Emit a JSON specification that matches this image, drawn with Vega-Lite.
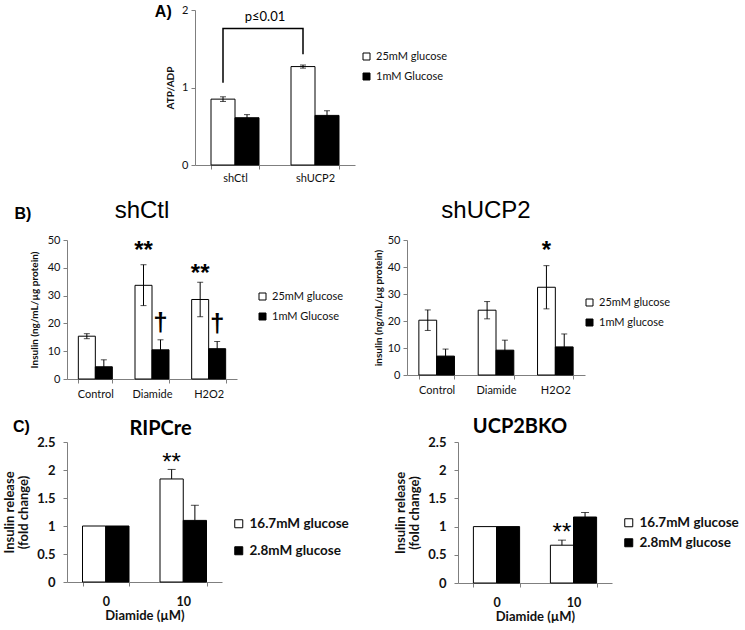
{
 "$schema": "https://vega.github.io/schema/vega-lite/v6.json",
 "padding": {"left": 3, "top": 4, "right": 5, "bottom": 5},
 "background": "white",
 "config": {
  "font": "Lato",
  "view": {"stroke": null},
  "axis": {"domainColor": "#7f7f7f", "tickColor": "#7f7f7f", "grid": false, "labelColor": "#111111", "titleColor": "#111111", "labelFont": "Lato", "titleFont": "Lato", "tickSize": 4, "labelFontSize": 11, "titleFontSize": 10, "titleFontWeight": "bold", "labelOverlap": false},
  "legend": {"labelFont": "Lato", "labelColor": "#111111"},
  "title": {"font": "Liberation Sans", "color": "#000000"}
 },
 "datasets": {
  "A": [
   {"cond": "shCtl", "grp": "25mM glucose", "val": 0.85, "lo": 0.82, "hi": 0.88},
   {"cond": "shCtl", "grp": "1mM Glucose", "val": 0.61, "lo": 0.57, "hi": 0.65},
   {"cond": "shUCP2", "grp": "25mM glucose", "val": 1.27, "lo": 1.25, "hi": 1.29},
   {"cond": "shUCP2", "grp": "1mM Glucose", "val": 0.64, "lo": 0.58, "hi": 0.70}
  ],
  "Abr": [
   {"cond": "shCtl", "y": 1.06, "o": 1},
   {"cond": "shCtl", "y": 1.76, "o": 2},
   {"cond": "shUCP2", "y": 1.76, "o": 3},
   {"cond": "shUCP2", "y": 1.43, "o": 4}
  ],
  "Atxt": [{"cond": "shCtl", "y": 1.86, "label": "p≤0.01"}],
  "BL": [
   {"cond": "Control", "grp": "25mM glucose", "val": 15.4, "lo": 14.5, "hi": 16.3},
   {"cond": "Control", "grp": "1mM Glucose", "val": 4.4, "lo": 1.9, "hi": 6.9},
   {"cond": "Diamide", "grp": "25mM glucose", "val": 33.7, "lo": 26.4, "hi": 41.1},
   {"cond": "Diamide", "grp": "1mM Glucose", "val": 10.5, "lo": 6.9, "hi": 14.1},
   {"cond": "H2O2", "grp": "25mM glucose", "val": 28.6, "lo": 22.4, "hi": 34.8},
   {"cond": "H2O2", "grp": "1mM Glucose", "val": 10.9, "lo": 8.3, "hi": 13.5}
  ],
  "BLstar": [
   {"cond": "Diamide", "grp": "25mM glucose", "y": 43.7, "label": "**"},
   {"cond": "H2O2", "grp": "25mM glucose", "y": 35.4, "label": "**"}
  ],
  "BLdag": [
   {"cond": "Diamide", "grp": "1mM Glucose", "y": 17.4, "label": "†"},
   {"cond": "H2O2", "grp": "1mM Glucose", "y": 17.0, "label": "†"}
  ],
  "BR": [
   {"cond": "Control", "grp": "25mM glucose", "val": 20.3, "lo": 16.5, "hi": 24.1},
   {"cond": "Control", "grp": "1mM glucose", "val": 7.0, "lo": 4.4, "hi": 9.6},
   {"cond": "Diamide", "grp": "25mM glucose", "val": 24.0, "lo": 20.8, "hi": 27.2},
   {"cond": "Diamide", "grp": "1mM glucose", "val": 9.2, "lo": 5.5, "hi": 12.9},
   {"cond": "H2O2", "grp": "25mM glucose", "val": 32.5, "lo": 24.5, "hi": 40.5},
   {"cond": "H2O2", "grp": "1mM glucose", "val": 10.4, "lo": 5.6, "hi": 15.2}
  ],
  "BRstar": [{"cond": "H2O2", "grp": "25mM glucose", "y": 43.3, "label": "*"}],
  "CL": [
   {"dose": "0", "grp": "16.7mM glucose", "val": 1.0},
   {"dose": "0", "grp": "2.8mM glucose", "val": 1.0},
   {"dose": "10", "grp": "16.7mM glucose", "val": 1.84},
   {"dose": "10", "grp": "2.8mM glucose", "val": 1.10}
  ],
  "CLerr": [
   {"dose": "10", "grp": "16.7mM glucose", "val": 1.84, "hi": 2.01},
   {"dose": "10", "grp": "2.8mM glucose", "val": 1.10, "hi": 1.37}
  ],
  "CLstar": [{"dose": "10", "grp": "16.7mM glucose", "y": 2.0, "label": "**"}],
  "CR": [
   {"dose": "0", "grp": "16.7mM glucose", "val": 1.0},
   {"dose": "0", "grp": "2.8mM glucose", "val": 1.0},
   {"dose": "10", "grp": "16.7mM glucose", "val": 0.67},
   {"dose": "10", "grp": "2.8mM glucose", "val": 1.17}
  ],
  "CRerr": [
   {"dose": "10", "grp": "16.7mM glucose", "val": 0.67, "hi": 0.76},
   {"dose": "10", "grp": "2.8mM glucose", "val": 1.17, "hi": 1.25}
  ],
  "CRstar": [{"dose": "10", "grp": "16.7mM glucose", "y": 0.76, "label": "**"}],
  "spacer": [{"a": 1}]
 },
 "resolve": {"scale": {"x": "independent", "y": "independent", "color": "independent", "xOffset": "independent"}, "axis": {"x": "independent", "y": "independent"}, "legend": {"color": "independent"}},
 "spacing": 16,
 "vconcat": [
  {
   "spacing": 10,
   "resolve": {"scale": {"x": "independent", "y": "independent", "color": "independent", "xOffset": "independent"}, "axis": {"x": "independent", "y": "independent"}, "legend": {"color": "independent"}},
   "hconcat": [
    {"width": 77, "height": 10, "data": {"name": "spacer"}, "mark": {"type": "point", "opacity": 0}, "encoding": {}},
    {
     "width": 160, "height": 155,
     "title": {"text": "A)", "orient": "left", "anchor": "end", "frame": "group", "angle": 0, "align": "right", "baseline": "top", "offset": -23, "dy": -6, "fontSize": 16, "fontWeight": "bold"},
     "layer": [
      {"data": {"name": "A"}, "mark": {"type": "bar", "stroke": "#000000", "strokeWidth": 1},
       "encoding": {
        "x": {"field": "cond", "type": "nominal", "scale": {"paddingInner": 0.4, "paddingOuter": 0.2}, "axis": {"title": null, "labelAngle": 0, "labelPadding": 3, "tickBand": "extent", "labelOverlap": false}},
        "xOffset": {"field": "grp", "type": "nominal", "scale": {"domain": ["25mM glucose", "1mM Glucose"]}},
        "y": {"field": "val", "type": "quantitative", "scale": {"domain": [0, 2], "nice": false}, "axis": {"values": [0, 1, 2], "format": "~g", "labelOverlap": false, "title": "ATP/ADP", "titlePadding": 6, "labelPadding": 3}},
        "color": {"field": "grp", "type": "nominal", "scale": {"domain": ["25mM glucose", "1mM Glucose"], "range": ["#ffffff", "#000000"]}, "legend": {"title": null, "orient": "none", "legendX": 166, "legendY": 41, "symbolType": "square", "symbolSize": 49, "symbolStrokeColor": "#000000", "symbolStrokeWidth": 1, "labelFontSize": 11, "rowPadding": 8}}
       }},
      {"data": {"name": "A"}, "mark": {"type": "rule", "color": "#000000", "strokeWidth": 1},
       "encoding": {
        "x": {"field": "cond", "type": "nominal", "scale": {"paddingInner": 0.4, "paddingOuter": 0.2}, "axis": {"title": null, "labelAngle": 0, "labelPadding": 3, "tickBand": "extent", "labelOverlap": false}},
        "xOffset": {"field": "grp", "type": "nominal", "scale": {"domain": ["25mM glucose", "1mM Glucose"]}},
        "y": {"field": "lo", "type": "quantitative", "scale": {"domain": [0, 2], "nice": false}, "axis": {"values": [0, 1, 2], "format": "~g", "labelOverlap": false, "title": "ATP/ADP", "titlePadding": 6, "labelPadding": 3}},
        "y2": {"field": "hi"}}},
      {"data": {"name": "A"}, "mark": {"type": "tick", "orient": "horizontal", "color": "#000000", "thickness": 1, "size": 6},
       "encoding": {
        "x": {"field": "cond", "type": "nominal", "scale": {"paddingInner": 0.4, "paddingOuter": 0.2}, "axis": {"title": null, "labelAngle": 0, "labelPadding": 3, "tickBand": "extent", "labelOverlap": false}},
        "xOffset": {"field": "grp", "type": "nominal", "scale": {"domain": ["25mM glucose", "1mM Glucose"]}},
        "y": {"field": "hi", "type": "quantitative", "scale": {"domain": [0, 2], "nice": false}, "axis": {"values": [0, 1, 2], "format": "~g", "labelOverlap": false, "title": "ATP/ADP", "titlePadding": 6, "labelPadding": 3}}}},
      {"data": {"name": "A"}, "mark": {"type": "tick", "orient": "horizontal", "color": "#000000", "thickness": 1, "size": 6},
       "encoding": {
        "x": {"field": "cond", "type": "nominal", "scale": {"paddingInner": 0.4, "paddingOuter": 0.2}, "axis": {"title": null, "labelAngle": 0, "labelPadding": 3, "tickBand": "extent", "labelOverlap": false}},
        "xOffset": {"field": "grp", "type": "nominal", "scale": {"domain": ["25mM glucose", "1mM Glucose"]}},
        "y": {"field": "lo", "type": "quantitative", "scale": {"domain": [0, 2], "nice": false}, "axis": {"values": [0, 1, 2], "format": "~g", "labelOverlap": false, "title": "ATP/ADP", "titlePadding": 6, "labelPadding": 3}}}},
      {"data": {"name": "Abr"}, "mark": {"type": "line", "color": "#000000", "strokeWidth": 1.5},
       "encoding": {
        "x": {"field": "cond", "type": "nominal", "bandPosition": 0.25, "scale": {"paddingInner": 0.4, "paddingOuter": 0.2}, "axis": {"title": null, "labelAngle": 0, "labelPadding": 3, "tickBand": "extent", "labelOverlap": false}},
        "y": {"field": "y", "type": "quantitative", "scale": {"domain": [0, 2], "nice": false}, "axis": {"values": [0, 1, 2], "format": "~g", "labelOverlap": false, "title": "ATP/ADP", "titlePadding": 6, "labelPadding": 3}},
        "order": {"field": "o", "type": "quantitative"}}},
      {"data": {"name": "Atxt"}, "mark": {"type": "text", "fontSize": 13, "dx": 6, "baseline": "alphabetic", "font": "Lato"},
       "encoding": {
        "x": {"field": "cond", "type": "nominal", "bandPosition": 1, "scale": {"paddingInner": 0.4, "paddingOuter": 0.2}, "axis": {"title": null, "labelAngle": 0, "labelPadding": 3, "tickBand": "extent", "labelOverlap": false}},
        "y": {"field": "y", "type": "quantitative", "scale": {"domain": [0, 2], "nice": false}, "axis": {"values": [0, 1, 2], "format": "~g", "labelOverlap": false, "title": "ATP/ADP", "titlePadding": 6, "labelPadding": 3}},
        "text": {"field": "label"}}}
     ]
    }
   ]
  },
  {
   "spacing": 18,
   "resolve": {"scale": {"x": "independent", "y": "independent", "color": "independent", "xOffset": "independent"}, "axis": {"x": "independent", "y": "independent"}, "legend": {"color": "independent"}},
   "vconcat": [
    {
     "spacing": 29,
     "resolve": {"scale": {"x": "independent", "y": "independent", "color": "independent", "xOffset": "independent"}, "axis": {"x": "independent", "y": "independent"}, "legend": {"color": "independent"}},
     "hconcat": [
      {
       "title": {"text": "B)", "orient": "left", "anchor": "end", "frame": "bounds", "angle": 0, "align": "right", "baseline": "top", "offset": -19, "dy": 7, "fontSize": 16, "fontWeight": "bold"},
       "hconcat": [
        {
         "width": 170, "height": 139,
         "title": {"text": "shCtl", "fontSize": 24, "fontWeight": "normal", "offset": 11, "dx": -10},
         "layer": [
          {"data": {"name": "BL"}, "mark": {"type": "bar", "stroke": "#000000", "strokeWidth": 1},
           "encoding": {
            "x": {"field": "cond", "type": "nominal", "scale": {"paddingInner": 0.4, "paddingOuter": 0.2}, "axis": {"title": null, "labelAngle": 0, "labelPadding": 5, "tickBand": "extent", "labelOverlap": false}},
            "xOffset": {"field": "grp", "type": "nominal", "scale": {"domain": ["25mM glucose", "1mM Glucose"]}},
            "y": {"field": "val", "type": "quantitative", "scale": {"domain": [0, 50], "nice": false}, "axis": {"values": [0, 10, 20, 30, 40, 50], "labelOverlap": false, "title": "Insulin (ng/mL/µg protein)", "titlePadding": 8, "labelPadding": 3}},
            "color": {"field": "grp", "type": "nominal", "scale": {"domain": ["25mM glucose", "1mM Glucose"], "range": ["#ffffff", "#000000"]}, "legend": {"title": null, "orient": "none", "legendX": 190, "legendY": 51, "symbolType": "square", "symbolSize": 49, "symbolStrokeColor": "#000000", "symbolStrokeWidth": 1, "labelFontSize": 11, "rowPadding": 8}}
           }},
          {"data": {"name": "BL"}, "mark": {"type": "rule", "color": "#000000", "strokeWidth": 1},
           "encoding": {
            "x": {"field": "cond", "type": "nominal", "scale": {"paddingInner": 0.4, "paddingOuter": 0.2}, "axis": {"title": null, "labelAngle": 0, "labelPadding": 5, "tickBand": "extent", "labelOverlap": false}},
            "xOffset": {"field": "grp", "type": "nominal", "scale": {"domain": ["25mM glucose", "1mM Glucose"]}},
            "y": {"field": "lo", "type": "quantitative", "scale": {"domain": [0, 50], "nice": false}, "axis": {"values": [0, 10, 20, 30, 40, 50], "labelOverlap": false, "title": "Insulin (ng/mL/µg protein)", "titlePadding": 8, "labelPadding": 3}},
            "y2": {"field": "hi"}}},
          {"data": {"name": "BL"}, "mark": {"type": "tick", "orient": "horizontal", "color": "#000000", "thickness": 1, "size": 6},
           "encoding": {
            "x": {"field": "cond", "type": "nominal", "scale": {"paddingInner": 0.4, "paddingOuter": 0.2}, "axis": {"title": null, "labelAngle": 0, "labelPadding": 5, "tickBand": "extent", "labelOverlap": false}},
            "xOffset": {"field": "grp", "type": "nominal", "scale": {"domain": ["25mM glucose", "1mM Glucose"]}},
            "y": {"field": "hi", "type": "quantitative", "scale": {"domain": [0, 50], "nice": false}, "axis": {"values": [0, 10, 20, 30, 40, 50], "labelOverlap": false, "title": "Insulin (ng/mL/µg protein)", "titlePadding": 8, "labelPadding": 3}}}},
          {"data": {"name": "BL"}, "mark": {"type": "tick", "orient": "horizontal", "color": "#000000", "thickness": 1, "size": 6},
           "encoding": {
            "x": {"field": "cond", "type": "nominal", "scale": {"paddingInner": 0.4, "paddingOuter": 0.2}, "axis": {"title": null, "labelAngle": 0, "labelPadding": 5, "tickBand": "extent", "labelOverlap": false}},
            "xOffset": {"field": "grp", "type": "nominal", "scale": {"domain": ["25mM glucose", "1mM Glucose"]}},
            "y": {"field": "lo", "type": "quantitative", "scale": {"domain": [0, 50], "nice": false}, "axis": {"values": [0, 10, 20, 30, 40, 50], "labelOverlap": false, "title": "Insulin (ng/mL/µg protein)", "titlePadding": 8, "labelPadding": 3}}}},
          {"data": {"name": "BLstar"}, "mark": {"type": "text", "font": "Liberation Sans", "fontSize": 24, "fontWeight": "bold", "baseline": "alphabetic"},
           "encoding": {
            "x": {"field": "cond", "type": "nominal", "scale": {"paddingInner": 0.4, "paddingOuter": 0.2}, "axis": {"title": null, "labelAngle": 0, "labelPadding": 5, "tickBand": "extent", "labelOverlap": false}},
            "xOffset": {"field": "grp", "type": "nominal", "scale": {"domain": ["25mM glucose", "1mM Glucose"]}},
            "y": {"field": "y", "type": "quantitative", "scale": {"domain": [0, 50], "nice": false}, "axis": {"values": [0, 10, 20, 30, 40, 50], "labelOverlap": false, "title": "Insulin (ng/mL/µg protein)", "titlePadding": 8, "labelPadding": 3}},
            "text": {"field": "label"}}},
          {"data": {"name": "BLdag"}, "mark": {"type": "text", "font": "Liberation Sans", "fontSize": 26, "fontWeight": "bold", "baseline": "alphabetic"},
           "encoding": {
            "x": {"field": "cond", "type": "nominal", "scale": {"paddingInner": 0.4, "paddingOuter": 0.2}, "axis": {"title": null, "labelAngle": 0, "labelPadding": 5, "tickBand": "extent", "labelOverlap": false}},
            "xOffset": {"field": "grp", "type": "nominal", "scale": {"domain": ["25mM glucose", "1mM Glucose"]}},
            "y": {"field": "y", "type": "quantitative", "scale": {"domain": [0, 50], "nice": false}, "axis": {"values": [0, 10, 20, 30, 40, 50], "labelOverlap": false, "title": "Insulin (ng/mL/µg protein)", "titlePadding": 8, "labelPadding": 3}},
            "text": {"field": "label"}}}
         ]
        }
       ]
      },
      {
       "width": 178, "height": 135,
       "title": {"text": "shUCP2", "fontSize": 24, "fontWeight": "normal", "offset": 11, "dx": -10},
       "layer": [
        {"data": {"name": "BR"}, "mark": {"type": "bar", "stroke": "#000000", "strokeWidth": 1},
         "encoding": {
          "x": {"field": "cond", "type": "nominal", "scale": {"paddingInner": 0.4, "paddingOuter": 0.2}, "axis": {"title": null, "labelAngle": 0, "labelPadding": 5, "tickBand": "extent", "labelOverlap": false}},
          "xOffset": {"field": "grp", "type": "nominal", "scale": {"domain": ["25mM glucose", "1mM glucose"]}},
          "y": {"field": "val", "type": "quantitative", "scale": {"domain": [0, 50], "nice": false}, "axis": {"values": [0, 10, 20, 30, 40, 50], "labelOverlap": false, "title": "insulin (ng/mL/µg protein)", "titlePadding": 4, "labelPadding": 3}},
          "color": {"field": "grp", "type": "nominal", "scale": {"domain": ["25mM glucose", "1mM glucose"], "range": ["#ffffff", "#000000"]}, "legend": {"title": null, "orient": "none", "legendX": 177, "legendY": 57, "symbolType": "square", "symbolSize": 49, "symbolStrokeColor": "#000000", "symbolStrokeWidth": 1, "labelFontSize": 11, "rowPadding": 8}}
         }},
        {"data": {"name": "BR"}, "mark": {"type": "rule", "color": "#000000", "strokeWidth": 1},
         "encoding": {
          "x": {"field": "cond", "type": "nominal", "scale": {"paddingInner": 0.4, "paddingOuter": 0.2}, "axis": {"title": null, "labelAngle": 0, "labelPadding": 5, "tickBand": "extent", "labelOverlap": false}},
          "xOffset": {"field": "grp", "type": "nominal", "scale": {"domain": ["25mM glucose", "1mM glucose"]}},
          "y": {"field": "lo", "type": "quantitative", "scale": {"domain": [0, 50], "nice": false}, "axis": {"values": [0, 10, 20, 30, 40, 50], "labelOverlap": false, "title": "insulin (ng/mL/µg protein)", "titlePadding": 4, "labelPadding": 3}},
          "y2": {"field": "hi"}}},
        {"data": {"name": "BR"}, "mark": {"type": "tick", "orient": "horizontal", "color": "#000000", "thickness": 1, "size": 6},
         "encoding": {
          "x": {"field": "cond", "type": "nominal", "scale": {"paddingInner": 0.4, "paddingOuter": 0.2}, "axis": {"title": null, "labelAngle": 0, "labelPadding": 5, "tickBand": "extent", "labelOverlap": false}},
          "xOffset": {"field": "grp", "type": "nominal", "scale": {"domain": ["25mM glucose", "1mM glucose"]}},
          "y": {"field": "hi", "type": "quantitative", "scale": {"domain": [0, 50], "nice": false}, "axis": {"values": [0, 10, 20, 30, 40, 50], "labelOverlap": false, "title": "insulin (ng/mL/µg protein)", "titlePadding": 4, "labelPadding": 3}}}},
        {"data": {"name": "BR"}, "mark": {"type": "tick", "orient": "horizontal", "color": "#000000", "thickness": 1, "size": 6},
         "encoding": {
          "x": {"field": "cond", "type": "nominal", "scale": {"paddingInner": 0.4, "paddingOuter": 0.2}, "axis": {"title": null, "labelAngle": 0, "labelPadding": 5, "tickBand": "extent", "labelOverlap": false}},
          "xOffset": {"field": "grp", "type": "nominal", "scale": {"domain": ["25mM glucose", "1mM glucose"]}},
          "y": {"field": "lo", "type": "quantitative", "scale": {"domain": [0, 50], "nice": false}, "axis": {"values": [0, 10, 20, 30, 40, 50], "labelOverlap": false, "title": "insulin (ng/mL/µg protein)", "titlePadding": 4, "labelPadding": 3}}}},
        {"data": {"name": "BRstar"}, "mark": {"type": "text", "font": "Liberation Sans", "fontSize": 24, "fontWeight": "bold", "baseline": "alphabetic"},
         "encoding": {
          "x": {"field": "cond", "type": "nominal", "scale": {"paddingInner": 0.4, "paddingOuter": 0.2}, "axis": {"title": null, "labelAngle": 0, "labelPadding": 5, "tickBand": "extent", "labelOverlap": false}},
          "xOffset": {"field": "grp", "type": "nominal", "scale": {"domain": ["25mM glucose", "1mM glucose"]}},
          "y": {"field": "y", "type": "quantitative", "scale": {"domain": [0, 50], "nice": false}, "axis": {"values": [0, 10, 20, 30, 40, 50], "labelOverlap": false, "title": "insulin (ng/mL/µg protein)", "titlePadding": 4, "labelPadding": 3}},
          "text": {"field": "label"}}}
       ]
      }
     ]
    },
    {
     "spacing": 45,
     "resolve": {"scale": {"x": "independent", "y": "independent", "color": "independent", "xOffset": "independent"}, "axis": {"x": "independent", "y": "independent"}, "legend": {"color": "independent"}},
     "hconcat": [
      {
       "title": {"text": "C)", "orient": "left", "anchor": "end", "frame": "bounds", "angle": 0, "align": "right", "baseline": "top", "offset": -43, "dy": 0, "fontSize": 16, "fontWeight": "bold"},
       "hconcat": [
        {
         "width": 155, "height": 140,
         "title": {"text": "RIPCre", "font": "Lato", "fontSize": 20, "fontWeight": "bold", "offset": -3, "dx": 16},
         "layer": [
          {"data": {"name": "CL"}, "mark": {"type": "bar", "stroke": "#000000", "strokeWidth": 1},
           "encoding": {
            "x": {"field": "dose", "type": "nominal", "scale": {"paddingInner": 0.4, "paddingOuter": 0.2}, "axis": {"title": "Diamide (µM)", "titleFontSize": 13, "titlePadding": 2, "labelAngle": 0, "labelPadding": 9, "labelFontSize": 12.5, "labelFontWeight": "bold", "tickBand": "extent", "labelOverlap": false}},
            "xOffset": {"field": "grp", "type": "nominal", "scale": {"domain": ["16.7mM glucose", "2.8mM glucose"]}},
            "y": {"field": "val", "type": "quantitative", "scale": {"domain": [0, 2.5], "nice": false}, "axis": {"values": [0, 0.5, 1, 1.5, 2, 2.5], "format": "~g", "labelOverlap": false, "title": ["Insulin release", "(fold change)"], "titleFontSize": 13, "titleLineHeight": 14, "titlePadding": 6, "labelPadding": 8, "labelFontSize": 13, "labelFontWeight": "bold"}},
            "color": {"field": "grp", "type": "nominal", "scale": {"domain": ["16.7mM glucose", "2.8mM glucose"], "range": ["#ffffff", "#000000"]}, "legend": {"title": null, "orient": "none", "legendX": 165, "legendY": 75, "symbolType": "square", "symbolSize": 64, "symbolStrokeColor": "#000000", "symbolStrokeWidth": 1, "labelFontSize": 13.5, "labelFontWeight": "bold", "rowPadding": 12}}
           }},
          {"data": {"name": "CLerr"}, "mark": {"type": "rule", "color": "#000000", "strokeWidth": 1},
           "encoding": {
            "x": {"field": "dose", "type": "nominal", "scale": {"paddingInner": 0.4, "paddingOuter": 0.2}, "axis": {"title": "Diamide (µM)", "titleFontSize": 13, "titlePadding": 2, "labelAngle": 0, "labelPadding": 9, "labelFontSize": 12.5, "labelFontWeight": "bold", "tickBand": "extent", "labelOverlap": false}},
            "xOffset": {"field": "grp", "type": "nominal", "scale": {"domain": ["16.7mM glucose", "2.8mM glucose"]}},
            "y": {"field": "val", "type": "quantitative", "scale": {"domain": [0, 2.5], "nice": false}, "axis": {"values": [0, 0.5, 1, 1.5, 2, 2.5], "format": "~g", "labelOverlap": false, "title": ["Insulin release", "(fold change)"], "titleFontSize": 13, "titleLineHeight": 14, "titlePadding": 6, "labelPadding": 8, "labelFontSize": 13, "labelFontWeight": "bold"}},
            "y2": {"field": "hi"}}},
          {"data": {"name": "CLerr"}, "mark": {"type": "tick", "orient": "horizontal", "color": "#000000", "thickness": 1, "size": 8},
           "encoding": {
            "x": {"field": "dose", "type": "nominal", "scale": {"paddingInner": 0.4, "paddingOuter": 0.2}, "axis": {"title": "Diamide (µM)", "titleFontSize": 13, "titlePadding": 2, "labelAngle": 0, "labelPadding": 9, "labelFontSize": 12.5, "labelFontWeight": "bold", "tickBand": "extent", "labelOverlap": false}},
            "xOffset": {"field": "grp", "type": "nominal", "scale": {"domain": ["16.7mM glucose", "2.8mM glucose"]}},
            "y": {"field": "hi", "type": "quantitative", "scale": {"domain": [0, 2.5], "nice": false}, "axis": {"values": [0, 0.5, 1, 1.5, 2, 2.5], "format": "~g", "labelOverlap": false, "title": ["Insulin release", "(fold change)"], "titleFontSize": 13, "titleLineHeight": 14, "titlePadding": 6, "labelPadding": 8, "labelFontSize": 13, "labelFontWeight": "bold"}}}},
          {"data": {"name": "CLstar"}, "mark": {"type": "text", "font": "Liberation Sans", "fontSize": 24, "baseline": "alphabetic"},
           "encoding": {
            "x": {"field": "dose", "type": "nominal", "scale": {"paddingInner": 0.4, "paddingOuter": 0.2}, "axis": {"title": "Diamide (µM)", "titleFontSize": 13, "titlePadding": 2, "labelAngle": 0, "labelPadding": 9, "labelFontSize": 12.5, "labelFontWeight": "bold", "tickBand": "extent", "labelOverlap": false}},
            "xOffset": {"field": "grp", "type": "nominal", "scale": {"domain": ["16.7mM glucose", "2.8mM glucose"]}},
            "y": {"field": "y", "type": "quantitative", "scale": {"domain": [0, 2.5], "nice": false}, "axis": {"values": [0, 0.5, 1, 1.5, 2, 2.5], "format": "~g", "labelOverlap": false, "title": ["Insulin release", "(fold change)"], "titleFontSize": 13, "titleLineHeight": 14, "titlePadding": 6, "labelPadding": 8, "labelFontSize": 13, "labelFontWeight": "bold"}},
            "text": {"field": "label"}}}
         ]
        }
       ]
      },
      {
       "width": 154, "height": 141,
       "title": {"text": "UCP2BKO", "font": "Lato", "fontSize": 20, "fontWeight": "bold", "offset": -1, "dx": -15},
       "layer": [
        {"data": {"name": "CR"}, "mark": {"type": "bar", "stroke": "#000000", "strokeWidth": 1},
         "encoding": {
          "x": {"field": "dose", "type": "nominal", "scale": {"paddingInner": 0.4, "paddingOuter": 0.2}, "axis": {"title": "Diamide (µM)", "titleFontSize": 13, "titlePadding": 2, "labelAngle": 0, "labelPadding": 9, "labelFontSize": 12.5, "labelFontWeight": "bold", "tickBand": "extent", "labelOverlap": false}},
          "xOffset": {"field": "grp", "type": "nominal", "scale": {"domain": ["16.7mM glucose", "2.8mM glucose"]}},
          "y": {"field": "val", "type": "quantitative", "scale": {"domain": [0, 2.5], "nice": false}, "axis": {"values": [0, 0.5, 1, 1.5, 2, 2.5], "format": "~g", "labelOverlap": false, "title": ["Insulin release", "(fold change)"], "titleFontSize": 13, "titleLineHeight": 14, "titlePadding": 6, "labelPadding": 8, "labelFontSize": 13, "labelFontWeight": "bold"}},
          "color": {"field": "grp", "type": "nominal", "scale": {"domain": ["16.7mM glucose", "2.8mM glucose"], "range": ["#ffffff", "#000000"]}, "legend": {"title": null, "orient": "none", "legendX": 164, "legendY": 74, "symbolType": "square", "symbolSize": 64, "symbolStrokeColor": "#000000", "symbolStrokeWidth": 1, "labelFontSize": 13.5, "labelFontWeight": "bold", "rowPadding": 5}}
         }},
        {"data": {"name": "CRerr"}, "mark": {"type": "rule", "color": "#000000", "strokeWidth": 1},
         "encoding": {
          "x": {"field": "dose", "type": "nominal", "scale": {"paddingInner": 0.4, "paddingOuter": 0.2}, "axis": {"title": "Diamide (µM)", "titleFontSize": 13, "titlePadding": 2, "labelAngle": 0, "labelPadding": 9, "labelFontSize": 12.5, "labelFontWeight": "bold", "tickBand": "extent", "labelOverlap": false}},
          "xOffset": {"field": "grp", "type": "nominal", "scale": {"domain": ["16.7mM glucose", "2.8mM glucose"]}},
          "y": {"field": "val", "type": "quantitative", "scale": {"domain": [0, 2.5], "nice": false}, "axis": {"values": [0, 0.5, 1, 1.5, 2, 2.5], "format": "~g", "labelOverlap": false, "title": ["Insulin release", "(fold change)"], "titleFontSize": 13, "titleLineHeight": 14, "titlePadding": 6, "labelPadding": 8, "labelFontSize": 13, "labelFontWeight": "bold"}},
          "y2": {"field": "hi"}}},
        {"data": {"name": "CRerr"}, "mark": {"type": "tick", "orient": "horizontal", "color": "#000000", "thickness": 1, "size": 8},
         "encoding": {
          "x": {"field": "dose", "type": "nominal", "scale": {"paddingInner": 0.4, "paddingOuter": 0.2}, "axis": {"title": "Diamide (µM)", "titleFontSize": 13, "titlePadding": 2, "labelAngle": 0, "labelPadding": 9, "labelFontSize": 12.5, "labelFontWeight": "bold", "tickBand": "extent", "labelOverlap": false}},
          "xOffset": {"field": "grp", "type": "nominal", "scale": {"domain": ["16.7mM glucose", "2.8mM glucose"]}},
          "y": {"field": "hi", "type": "quantitative", "scale": {"domain": [0, 2.5], "nice": false}, "axis": {"values": [0, 0.5, 1, 1.5, 2, 2.5], "format": "~g", "labelOverlap": false, "title": ["Insulin release", "(fold change)"], "titleFontSize": 13, "titleLineHeight": 14, "titlePadding": 6, "labelPadding": 8, "labelFontSize": 13, "labelFontWeight": "bold"}}}},
        {"data": {"name": "CRstar"}, "mark": {"type": "text", "font": "Liberation Sans", "fontSize": 24, "baseline": "alphabetic"},
         "encoding": {
          "x": {"field": "dose", "type": "nominal", "scale": {"paddingInner": 0.4, "paddingOuter": 0.2}, "axis": {"title": "Diamide (µM)", "titleFontSize": 13, "titlePadding": 2, "labelAngle": 0, "labelPadding": 9, "labelFontSize": 12.5, "labelFontWeight": "bold", "tickBand": "extent", "labelOverlap": false}},
          "xOffset": {"field": "grp", "type": "nominal", "scale": {"domain": ["16.7mM glucose", "2.8mM glucose"]}},
          "y": {"field": "y", "type": "quantitative", "scale": {"domain": [0, 2.5], "nice": false}, "axis": {"values": [0, 0.5, 1, 1.5, 2, 2.5], "format": "~g", "labelOverlap": false, "title": ["Insulin release", "(fold change)"], "titleFontSize": 13, "titleLineHeight": 14, "titlePadding": 6, "labelPadding": 8, "labelFontSize": 13, "labelFontWeight": "bold"}},
          "text": {"field": "label"}}}
       ]
      }
     ]
    }
   ]
  }
 ]
}
